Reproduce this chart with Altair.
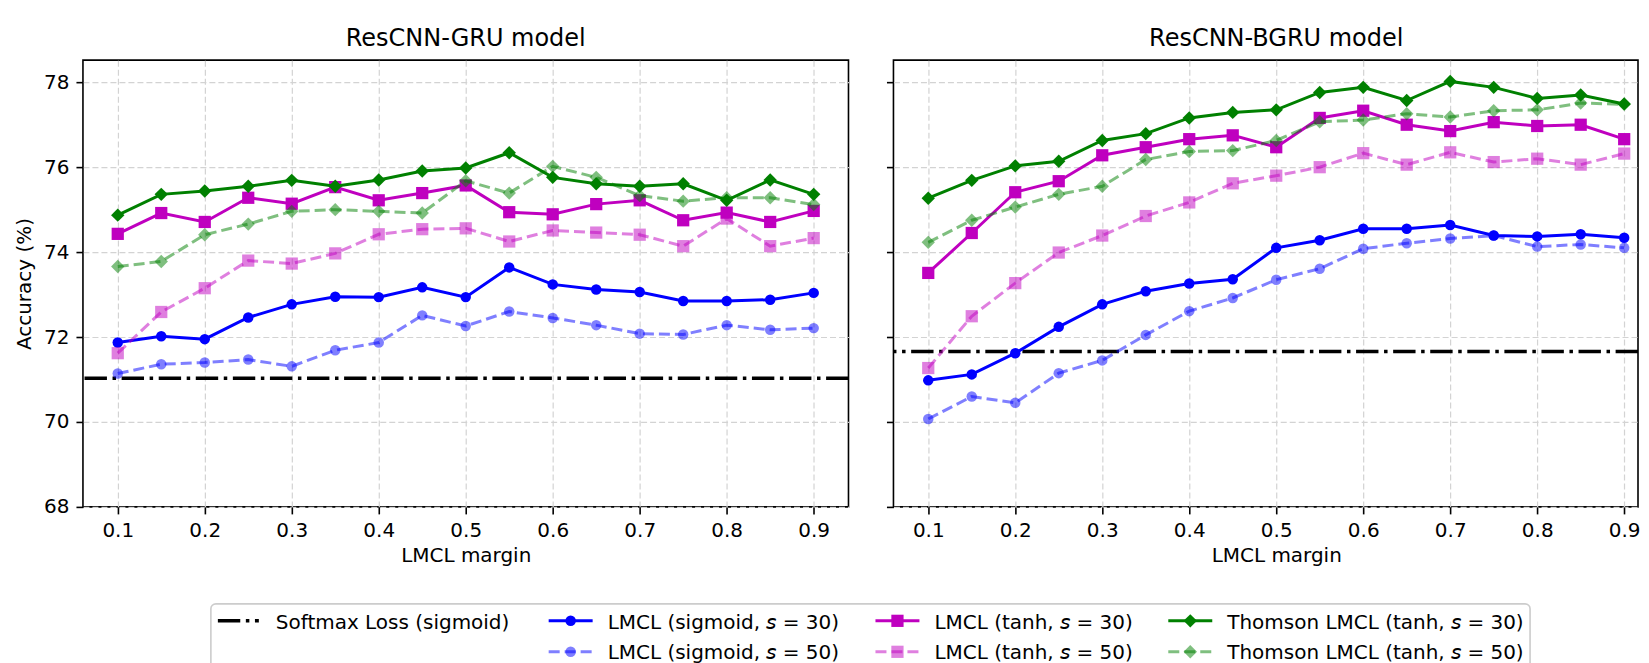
import altair as alt
import pandas as pd

# ---------------- data ----------------
margins = [0.1, 0.15, 0.2, 0.25, 0.3, 0.35, 0.4, 0.45, 0.5, 0.55, 0.6, 0.65, 0.7, 0.75, 0.8, 0.85, 0.9]
x_ticks = [0.1, 0.2, 0.3, 0.4, 0.5, 0.6, 0.7, 0.8, 0.9]
y_ticks = [68, 70, 72, 74, 76, 78]

gru_sig30 = [71.87, 72.02, 71.95, 72.46, 72.77, 72.95, 72.94, 73.17, 72.94, 73.64, 73.24, 73.12, 73.06, 72.85, 72.85, 72.88, 73.04]
gru_sig50 = [71.14, 71.36, 71.40, 71.47, 71.31, 71.69, 71.87, 72.51, 72.26, 72.60, 72.45, 72.28, 72.08, 72.06, 72.28, 72.17, 72.21]
gru_tanh30 = [74.43, 74.92, 74.71, 75.28, 75.14, 75.53, 75.22, 75.39, 75.57, 74.94, 74.89, 75.13, 75.22, 74.75, 74.93, 74.71, 74.97]
gru_tanh50 = [71.62, 72.59, 73.15, 73.80, 73.73, 73.97, 74.42, 74.54, 74.56, 74.25, 74.51, 74.46, 74.41, 74.14, 74.79, 74.14, 74.33]
gru_thom30 = [74.87, 75.36, 75.44, 75.55, 75.69, 75.55, 75.70, 75.91, 75.98, 76.34, 75.76, 75.61, 75.55, 75.61, 75.22, 75.70, 75.36]
gru_thom50 = [73.66, 73.78, 74.41, 74.66, 74.96, 75.00, 74.96, 74.92, 75.68, 75.39, 76.02, 75.76, 75.33, 75.20, 75.28, 75.28, 75.12]
gru_softmax = 71.03

bgru_sig30 = [70.98, 71.12, 71.62, 72.24, 72.77, 73.08, 73.26, 73.36, 74.10, 74.28, 74.55, 74.55, 74.64, 74.39, 74.37, 74.42, 74.34]
bgru_sig50 = [70.07, 70.60, 70.45, 71.15, 71.45, 72.05, 72.61, 72.92, 73.35, 73.61, 74.08, 74.21, 74.32, 74.39, 74.13, 74.18, 74.10]
bgru_tanh30 = [73.51, 74.45, 75.41, 75.67, 76.28, 76.47, 76.66, 76.75, 76.47, 77.16, 77.33, 77.00, 76.85, 77.06, 76.97, 77.00, 76.66]
bgru_tanh50 = [71.27, 72.49, 73.27, 73.99, 74.39, 74.85, 75.17, 75.62, 75.80, 76.00, 76.33, 76.06, 76.35, 76.12, 76.20, 76.06, 76.32]
bgru_thom30 = [75.27, 75.69, 76.03, 76.14, 76.63, 76.79, 77.16, 77.29, 77.35, 77.76, 77.88, 77.57, 78.02, 77.88, 77.62, 77.70, 77.49]
bgru_thom50 = [74.23, 74.75, 75.06, 75.36, 75.55, 76.18, 76.37, 76.39, 76.63, 77.07, 77.11, 77.26, 77.18, 77.33, 77.35, 77.51, 77.48]
bgru_softmax = 71.66

panel_titles = ["ResCNN-GRU model", "ResCNN-BGRU model"]
x_title = "LMCL margin"
y_title = "Accuracy (%)"

softmax_label = "Softmax Loss (sigmoid)"
series_labels = [
    "LMCL (sigmoid, \U0001D634 = 30)",
    "LMCL (sigmoid, \U0001D634 = 50)",
    "LMCL (tanh, \U0001D634 = 30)",
    "LMCL (tanh, \U0001D634 = 50)",
    "Thomson LMCL (tanh, \U0001D634 = 30)",
    "Thomson LMCL (tanh, \U0001D634 = 50)",
]

# ---------------- styles ----------------
BLUE, MAG, GREEN = "#0000ff", "#bf00bf", "#008000"
styles = [
    dict(color=BLUE, opacity=1.0, dash=None, shape="circle", size=110),
    dict(color=BLUE, opacity=0.5, dash=[11, 5], shape="circle", size=110),
    dict(color=MAG, opacity=1.0, dash=None, shape="square", size=150),
    dict(color=MAG, opacity=0.5, dash=[11, 5], shape="square", size=150),
    dict(color=GREEN, opacity=1.0, dash=None, shape="diamond", size=180),
    dict(color=GREEN, opacity=0.5, dash=[11, 5], shape="diamond", size=180),
]
SOFTMAX_DASH = [22.4, 5.6, 3.5, 5.6]
FONT = "DejaVu Sans"
H = 447
W_LEFT = 766
W_RIGHT = 745          # the right panel runs off the page in the reference
X_MIN = 0.06
PX_PER_UNIT = W_LEFT / 0.88


def X(width, title_x):
    dom_max = X_MIN + width / PX_PER_UNIT
    return alt.X("margin:Q", scale=alt.Scale(domain=[X_MIN, dom_max], nice=False, zero=False),
                 axis=alt.Axis(values=x_ticks, format=".1f", title=x_title, titlePadding=5,
                               titleX=title_x))


yscale = alt.Scale(domain=[68, 78.52], nice=False, zero=False)


def Y(show):
    if show:
        ax = alt.Axis(values=y_ticks, format="d", title=y_title, titlePadding=9)
    else:
        ax = alt.Axis(values=y_ticks, labels=False, title=None)
    return alt.Y("acc:Q", scale=yscale, axis=ax)


def panel(title, series_list, softmax, show_y, width, title_dx, title_x):
    layers = []
    sm = pd.DataFrame({"acc": [softmax]})
    layers.append(
        alt.Chart(sm).mark_rule(color="black", strokeWidth=3.5, strokeDash=SOFTMAX_DASH)
        .encode(y=Y(show_y))
    )
    for vals, st in zip(series_list, styles):
        df = pd.DataFrame({"margin": margins, "acc": vals})
        line_kw = dict(color=st["color"], strokeWidth=3, opacity=st["opacity"])
        if st["dash"]:
            line_kw["strokeDash"] = st["dash"]
        layers.append(alt.Chart(df).mark_line(**line_kw).encode(x=X(width, title_x), y=Y(show_y)))
        layers.append(
            alt.Chart(df).mark_point(shape=st["shape"], size=st["size"], filled=True,
                                     color=st["color"], opacity=st["opacity"], strokeWidth=0)
            .encode(x=X(width, title_x), y=Y(show_y))
        )
    return alt.layer(*layers).properties(
        width=width, height=H, title=alt.TitleParams(title, dx=title_dx),
        view=alt.ViewBackground(stroke="black", strokeWidth=1.6),
    )


left = panel(panel_titles[0], [gru_sig30, gru_sig50, gru_tanh30, gru_tanh50, gru_thom30, gru_thom50],
             gru_softmax, True, W_LEFT, 0, W_LEFT / 2)
right = panel(panel_titles[1], [bgru_sig30, bgru_sig50, bgru_tanh30, bgru_tanh50, bgru_thom30, bgru_thom50],
              bgru_softmax, False, W_RIGHT, (W_LEFT - W_RIGHT) / 2, W_LEFT / 2)

# ---------------- legend (drawn manually; origin = left plot's left edge) ----------------
LW, LH = 1460, 66
one = pd.DataFrame({"k": [0]})
leg = []
leg.append(alt.Chart(one).mark_rect(fill="white", stroke="#cccccc", strokeWidth=1.6, cornerRadius=5)
           .encode(x=alt.value(128), x2=alt.value(1448), y=alt.value(0), y2=alt.value(70)))
leg.append(alt.Chart(one).mark_rule(color="black", strokeWidth=3.5, strokeDash=SOFTMAX_DASH)
           .encode(x=alt.value(135), x2=alt.value(176), y=alt.value(17)))
leg.append(alt.Chart(one).mark_text(align="left", baseline="alphabetic", fontSize=20, font=FONT, color="black")
           .encode(x=alt.value(193), y=alt.value(25), text=alt.value(softmax_label)))
col_handle_x = [466, 793, 1086]
col_text_x = [525, 852, 1145]
row_y = [17, 48]
row_base = [25, 55]
for i, (lab, st) in enumerate(zip(series_labels, styles)):
    c, r = i // 2, i % 2
    hx = col_handle_x[c]
    lkw = dict(color=st["color"], strokeWidth=3, opacity=st["opacity"])
    if st["dash"]:
        lkw["strokeDash"] = st["dash"]
    leg.append(alt.Chart(one).mark_rule(**lkw)
               .encode(x=alt.value(hx), x2=alt.value(hx + 44), y=alt.value(row_y[r])))
    leg.append(alt.Chart(one).mark_point(shape=st["shape"], size=st["size"], filled=True,
                                         color=st["color"], opacity=st["opacity"], strokeWidth=0)
               .encode(x=alt.value(hx + 22), y=alt.value(row_y[r])))
    leg.append(alt.Chart(one).mark_text(align="left", baseline="alphabetic", fontSize=20, font=FONT, color="black")
               .encode(x=alt.value(col_text_x[c]), y=alt.value(row_base[r]), text=alt.value(lab)))

legend = alt.layer(*leg).properties(width=LW, height=LH,
                                    view=alt.ViewBackground(stroke="transparent"))

chart = alt.vconcat(
    alt.hconcat(left, right, spacing=33),
    legend,
    spacing=35,
).properties(
    padding={"left": 5, "top": 18, "right": 0, "bottom": 0}
).configure_axis(
    labelFont=FONT, titleFont=FONT, labelFontSize=20, titleFontSize=20,
    titleFontWeight="normal", labelColor="black", titleColor="black",
    tickColor="black", tickWidth=1.6, tickSize=7, labelPadding=7, domain=False,
    grid=True, gridColor="#d3d3d3", gridDash=[6, 3], gridWidth=1.2,
).configure_title(
    font=FONT, fontSize=24, fontWeight="normal", color="black", offset=9, anchor="middle"
).configure_view(
    stroke="black", strokeWidth=1.6
)

chart.save("out.html", embed_options={"renderer": "svg", "actions": False})
